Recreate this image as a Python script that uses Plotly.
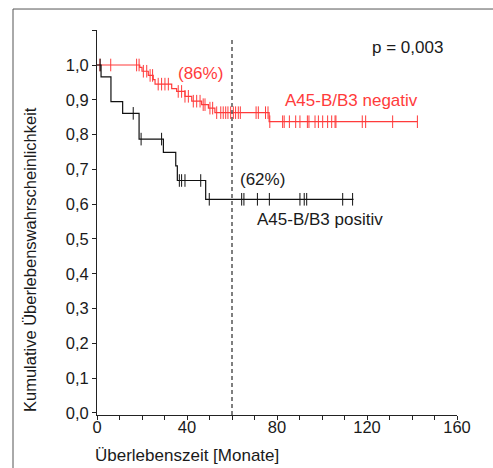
import plotly.graph_objects as go

# Kaplan-Meier: A45-B/B3 negativ (rot)
neg_times = [0, 19.0, 20.0, 22.8, 25.0, 25.8, 33.2, 35.4, 39.1, 42.1, 46.5, 49.5, 52.4, 76.5, 142.4]
neg_surv = [1.0, 0.993, 0.982, 0.970, 0.958, 0.945, 0.932, 0.924, 0.910, 0.896, 0.886, 0.876, 0.863, 0.837, 0.837]
neg_censor = [1.3, 6.1, 17.6, 18.7, 20.6, 22.1, 23.6, 24.7, 27.2, 28.7, 30.2, 31.7, 36.1, 37.6,
              39.1, 40.6, 42.8, 44.3, 45.8, 47.2, 48.0, 50.2, 51.4, 53.2, 55.0, 56.1, 57.2, 58.2,
              59.4, 60.6, 61.6, 62.8, 63.7, 70.7, 71.7, 74.9, 76.0, 76.8, 82.5, 83.2, 85.5, 88.3,
              90.2, 93.5, 94.2, 96.9, 98.4, 100.3, 102.5, 104.3, 105.8, 106.2, 117.9, 119.4,
              131.4, 142.4]

# Kaplan-Meier: A45-B/B3 positiv (schwarz)
pos_times = [0, 1.8, 6.2, 11.4, 18.7, 29.5, 35.0, 35.7, 48.3, 114.0]
pos_surv = [1.0, 0.966, 0.895, 0.861, 0.787, 0.749, 0.710, 0.668, 0.614, 0.614]
pos_censor = [1.4, 16.1, 19.6, 28.7, 36.6, 37.6, 39.1, 46.1, 49.9, 64.3, 65.3, 71.3, 76.6,
              90.2, 92.1, 93.2, 109.2, 113.6]

y_ticks = [0.0, 0.1, 0.2, 0.3, 0.4, 0.5, 0.6, 0.7, 0.8, 0.9, 1.0, 1.1]
y_ticktext = ['0,0', '0,1', '0,2', '0,3', '0,4', '0,5', '0,6', '0,7', '0,8', '0,9', '1,0', '']

RED = '#ff3b3b'
BLACK = '#111111'
FONT = 'Liberation Sans, Arial, sans-serif'


def level_at(times, surv, t):
    val = surv[0]
    for ti, si in zip(times, surv):
        if ti <= t:
            val = si
    return val


fig = go.Figure()

for times, surv, cens, col in [(neg_times, neg_surv, neg_censor, RED),
                               (pos_times, pos_surv, pos_censor, BLACK)]:
    fig.add_trace(go.Scatter(
        x=times, y=surv, mode='lines',
        line=dict(color=col, width=1.2, shape='hv'),
        hoverinfo='skip', showlegend=False
    ))
    fig.add_trace(go.Scatter(
        x=cens, y=[level_at(times, surv, t) for t in cens], mode='markers',
        marker=dict(symbol='line-ns-open', size=9, color=col, line=dict(color=col, width=1)),
        hoverinfo='skip', showlegend=False
    ))

fig.update_xaxes(
    range=[0, 160], tickvals=[0, 40, 80, 120, 160],
    showline=True, linecolor='#222', linewidth=1,
    ticks='outside', ticklen=4, tickcolor='#222', ticklabelstandoff=-7,
    minor=dict(dtick=10, ticks='outside', ticklen=4, tickcolor='#222'),
    showgrid=False, zeroline=False,
    tickfont=dict(size=16.5, color='#1a1a1a', family=FONT)
)
fig.update_yaxes(
    range=[-0.006, 1.1006], tickvals=y_ticks, ticktext=y_ticktext,
    showline=True, linecolor='#222', linewidth=1,
    ticks='outside', ticklen=4, tickcolor='#222',
    showgrid=False, zeroline=False,
    tickfont=dict(size=16.5, color='#1a1a1a', family=FONT)
)

fig.update_layout(
    width=493, height=468,
    margin=dict(l=97, r=36, t=30, b=53),
    plot_bgcolor='white', paper_bgcolor='white',
    font=dict(family=FONT, size=17, color='#1a1a1a'),
    shapes=[
        dict(type='line', xref='x', yref='y', x0=60, x1=60, y0=-0.006, y1=1.08,
             line=dict(color='#555', width=1.5, dash='4px,3px')),
        dict(type='line', xref='paper', yref='paper', x0=-0.2333, x1=1.2, y0=1.0545, y1=1.0545,
             line=dict(color='#555', width=1)),
        dict(type='line', xref='paper', yref='paper', x0=-0.2333, x1=-0.2333, y0=-0.2, y1=1.0545,
             line=dict(color='#555', width=1)),
    ],
    annotations=[
        dict(x=137.8, y=1.049, text='p = 0,003', showarrow=False, font=dict(size=17)),
        dict(x=46.2, y=0.977, text='(86%)', showarrow=False, font=dict(size=17, color=RED)),
        dict(x=113.2, y=0.898, text='A45-B/B3 negativ', showarrow=False, font=dict(size=17, color=RED)),
        dict(x=73.6, y=0.672, text='(62%)', showarrow=False, font=dict(size=17)),
        dict(x=99.1, y=0.557, text='A45-B/B3 positiv', showarrow=False, font=dict(size=17)),
        dict(x=0.249, y=-0.104, xref='paper', yref='paper', xanchor='center', yanchor='middle',
             text='Überlebenszeit [Monate]', showarrow=False, font=dict(size=17)),
        dict(x=-0.186, y=0.4026, xref='paper', yref='paper', xanchor='center', yanchor='middle',
             textangle=-90, text='Kumulative Überlebenswahrscheinlichkeit', showarrow=False,
             font=dict(size=16.5)),
    ]
)

fig.write_html("out.html", config={'displayModeBar': False},
               post_script="document.body.style.margin='0';")
